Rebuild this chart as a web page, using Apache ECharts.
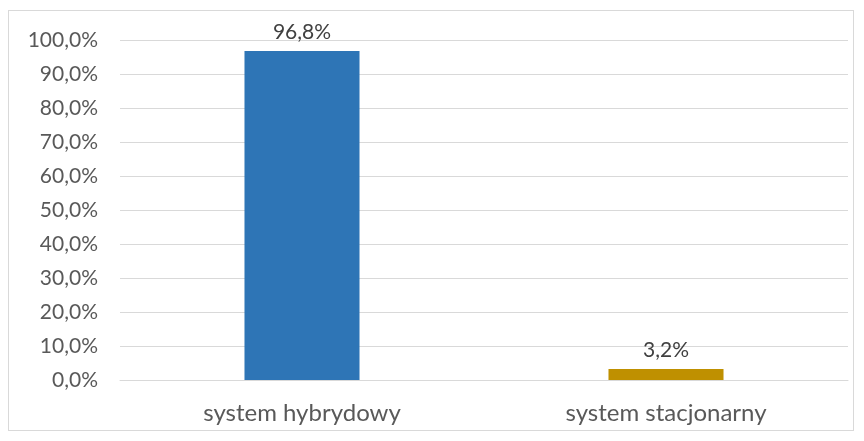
<!DOCTYPE html>
<html><head><meta charset="utf-8">
<script src="https://cdn.jsdelivr.net/npm/echarts@6/dist/echarts.min.js"></script>
<style>html,body{margin:0;padding:0;background:#fff}#box{position:absolute;left:8px;top:10px;width:846px;height:421px;border:1px solid #d9d9d9;box-sizing:border-box}#c{width:864px;height:441px}</style>
</head><body><div id="box"></div><div id="c"></div>
<script>
const categories = ['system hybrydowy', 'system stacjonarny'];
const values = [96.8, 3.2];
const colors = ['#2E75B6', '#BF9000'];
const fmt = v => v.toFixed(1).replace('.', ',') + '%';
const chart = echarts.init(document.getElementById('c'));
chart.setOption({
  animation: false,
  grid: {left: 120, right: 16, top: 40, bottom: 61},
  xAxis: {
    type: 'category', data: categories,
    axisLine: {show: true, lineStyle: {color: '#d9d9d9', width: 1}},
    axisTick: {show: false},
    axisLabel: {color: '#595959', fontSize: 24, fontFamily: 'Lato', margin: 21}
  },
  yAxis: {
    type: 'value', min: 0, max: 100, interval: 10,
    axisLine: {show: false}, axisTick: {show: false},
    splitLine: {lineStyle: {color: '#d9d9d9', width: 1}},
    axisLabel: {color: '#595959', fontSize: 21, fontFamily: 'Lato', margin: 22, formatter: v => fmt(v)}
  },
  series: [{
    type: 'bar', barWidth: '31.6%',
    data: values.map((v, i) => ({value: v, itemStyle: {color: colors[i]}})),
    label: {show: true, position: 'top', color: '#404040', fontSize: 21, fontFamily: 'Lato', distance: 8,
      formatter: p => p.value.toFixed(1).replace('.', ',') + '%'}
  }]
});
</script></body></html>
